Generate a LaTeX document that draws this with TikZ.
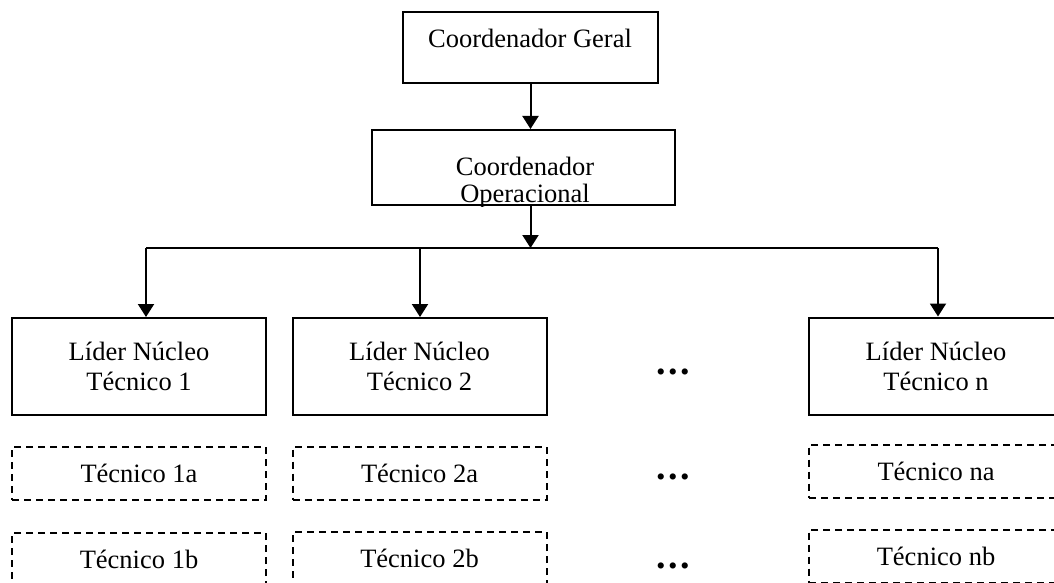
\documentclass[tikz,border=0pt]{standalone}
\usepackage{fontspec}
\setmainfont{Liberation Serif}
\usetikzlibrary{arrows.meta}
\begin{document}
\begin{tikzpicture}[x=1pt,y=-1pt,
  boxs/.style={draw, line width=2pt, inner sep=0pt, minimum width=#1},
  dbox/.style={draw, line width=2pt, dash pattern=on 7pt off 5pt, inner sep=0pt, minimum width=254pt, minimum height=53pt, font=\fontsize{26.5}{30}\selectfont},
  lbl/.style={font=\fontsize{26.5}{30}\selectfont, inner sep=0pt, align=center},
  arr/.style={line width=2pt, -{Triangle[width=16pt,length=13pt]}},
  conn/.style={line width=2pt},
  dots/.style={inner sep=0pt, font=\fontsize{38}{38}\selectfont\bfseries}]
\useasboundingbox (0,0) rectangle (1054,583);
% top boxes
\node[boxs=255pt, minimum height=71.5pt] (gen) at (530.5,47.5) {};
\node[lbl, anchor=base] (gent) at (530,48) {Coordenador Geral};
\node[boxs=303pt, minimum height=75pt] (op) at (523.5,167.5) {};
\begin{scope}
  \clip (op.south west) rectangle (op.north east);
  \node[lbl, anchor=base] (opt1) at (525,175) {Coordenador};
  \node[lbl, anchor=base] (opt2) at (525,202) {Operacional};
\end{scope}
% leaders
\node[boxs=254pt, minimum height=97pt, lbl] (l1) at (139,366.5) {Líder Núcleo\\Técnico 1};
\node[boxs=254pt, minimum height=97pt, lbl] (l2) at (419.5,366.5) {Líder Núcleo\\Técnico 2};
\node[boxs=254pt, minimum height=97pt, lbl] (ln) at (936,366) {Líder Núcleo\\Técnico n};
% technicians
\node[dbox] (t1a) at (139,473.5) {Técnico 1a};
\node[dbox] (t2a) at (419.5,473) {Técnico 2a};
\node[dbox] (tna) at (936,471) {Técnico na};
\node[dbox] (t1b) at (139,559.5) {Técnico 1b};
\node[dbox] (t2b) at (419.5,558.5) {Técnico 2b};
\node[dbox] (tnb) at (936,556) {Técnico nb};
% ellipses
\node[dots] (d1) at (673,371.5) {.\hspace{2.5pt}.\hspace{2.5pt}.};
\node[dots] (d2) at (673,476.5) {.\hspace{2.5pt}.\hspace{2.5pt}.};
\node[dots] (d3) at (673,565.5) {.\hspace{2.5pt}.\hspace{2.5pt}.};
% connectors
\coordinate (bus) at (530.5,248);
\coordinate (b1) at (146,248);
\coordinate (b2) at (420,248);
\coordinate (bn) at (938,248);
\draw[arr] (gen.south) -- (op.north -| gen.south);
\draw[arr] (op.south -| bus) -- (bus);
\draw[conn] (b1) -- (bn);
\draw[arr] (b1) -- (l1.north -| b1);
\draw[arr] (b2) -- (l2.north -| b2);
\draw[arr] (bn) -- (ln.north -| bn);
\end{tikzpicture}
\end{document}
